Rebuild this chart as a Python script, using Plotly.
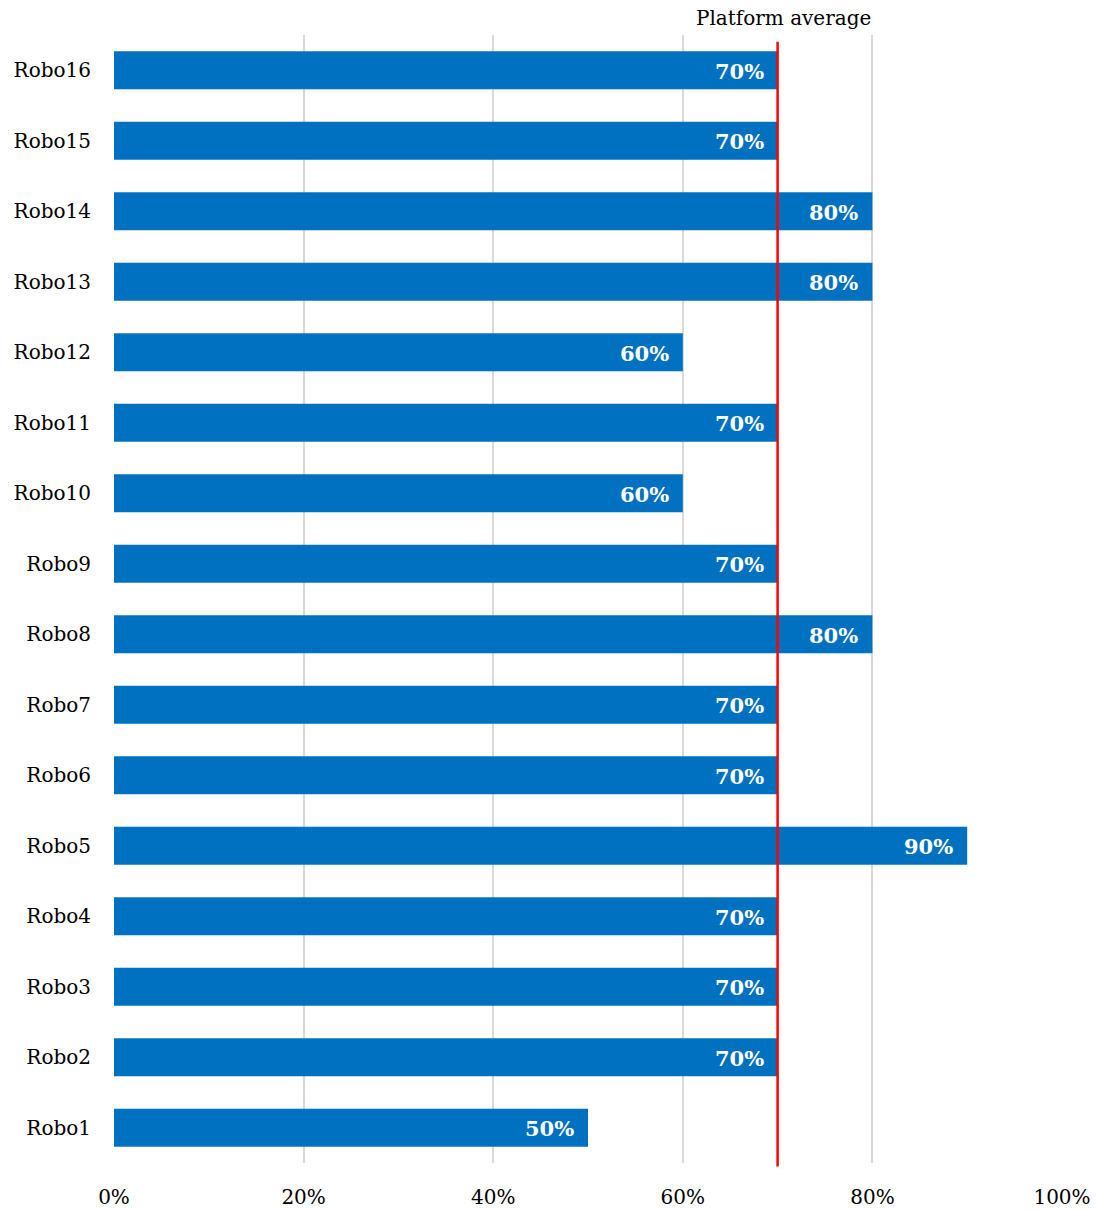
import plotly.graph_objects as go

# Share of tasks completed per robot, bottom (Robo1) to top (Robo16)
robots = [f"Robo{i}" for i in range(1, 17)]
scores = [0.50, 0.70, 0.70, 0.70, 0.90, 0.70, 0.70, 0.80,
          0.70, 0.60, 0.70, 0.60, 0.80, 0.80, 0.70, 0.70]
platform_average = 0.70
x_ticks = [0, 0.2, 0.4, 0.6, 0.8, 1.0]
x_tick_labels = ["0%", "20%", "40%", "60%", "80%", "100%"]

FONT = "DejaVu Serif"

fig = go.Figure()
fig.add_trace(go.Bar(
    x=scores,
    y=robots,
    orientation="h",
    marker=dict(color="#0070C0", line=dict(width=0)),
    width=0.54,
    hoverinfo="skip",
))

# Value labels placed just inside the end of each bar
for name, v in zip(robots, scores):
    fig.add_annotation(
        x=v, y=name, xref="x", yref="y",
        text=f"{v:.0%}", showarrow=False,
        xanchor="right", yanchor="middle", xshift=-12, yshift=-1,
        font=dict(family=FONT, size=21, color="white", weight="bold"),
    )

# Platform average marker line and its label
fig.add_shape(
    type="line", xref="x", yref="paper",
    x0=platform_average, x1=platform_average, y0=-0.003, y1=0.994,
    line=dict(color="#FF0000", width=2.5),
    layer="above",
)
fig.add_annotation(
    x=platform_average, xref="x", y=1.0, yref="paper",
    xshift=6, yshift=3, text="Platform average", showarrow=False,
    xanchor="center", yanchor="bottom",
    font=dict(family=FONT, size=20, color="black"),
)

fig.update_layout(
    width=1097, height=1210,
    margin=dict(l=114, r=35, t=35, b=47),
    paper_bgcolor="white", plot_bgcolor="white",
    showlegend=False,
    bargap=0.46,
    font=dict(family=FONT, size=20, color="black"),
    xaxis=dict(
        range=[0, 1.0], automargin=False,
        tickvals=x_ticks, ticktext=x_tick_labels,
        showgrid=True, gridcolor="#D9D9D9", gridwidth=2,
        zeroline=False, showline=False, ticks="",
        ticklabelstandoff=20,
        tickfont=dict(family=FONT, size=20, color="black"),
    ),
    yaxis=dict(
        categoryorder="array", categoryarray=robots, automargin=False,
        showgrid=False, zeroline=False, showline=False, ticks="",
        ticklabelstandoff=22,
        tickfont=dict(family=FONT, size=20, color="black"),
    ),
)

fig.write_html("out.html")
